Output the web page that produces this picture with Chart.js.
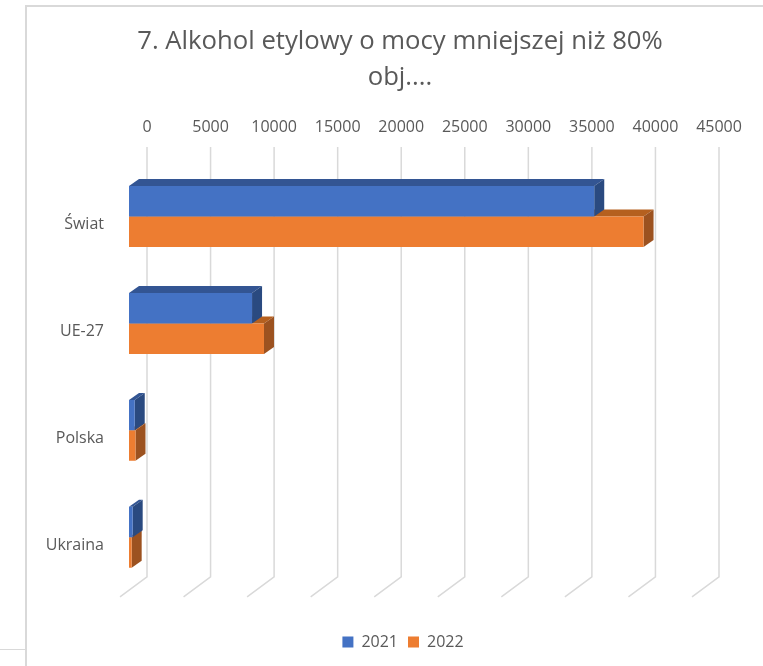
<!DOCTYPE html>
<html lang="pl">
<head>
<meta charset="utf-8">
<title>Alkohol etylowy</title>
<script src="https://cdn.jsdelivr.net/npm/chart.js@4"></script>
<style>
  html, body { margin: 0; background: #fff; overflow: hidden; }
  #wrap { position: relative; width: 763px; height: 666px; overflow: hidden; }
  #wrap canvas { position: absolute; left: 0; top: 0; }
  .frame { position: absolute; background: #d9d9d9; }
</style>
</head>
<body>
<div id="wrap">
  <canvas id="chart" width="800" height="666" style="width:800px;height:666px"></canvas>
  <div class="frame" style="left:25px;top:5px;width:738px;height:2px"></div>
  <div class="frame" style="left:25px;top:5px;width:2px;height:661px"></div>
  <div class="frame" style="left:0;top:649px;width:25px;height:1px"></div>
</div>
<script>
const categories = ['Świat', 'UE-27', 'Polska', 'Ukraina'];
const values2021 = [36600, 9680, 450, 290];
const values2022 = [40480, 10620, 510, 210];
const seriesNames = ['2021', '2022'];
const titleLines = ['7. Alkohol etylowy o mocy mniejszej niż 80%', 'obj....'];

const FONT = "'Open Sans', 'Noto Sans', sans-serif";
const TEXT = '#595959';
const GRID = '#d9d9d9';
const DEPTH_X = 10, DEPTH_Y = 7;      // bar extrusion
const WALL_X = 18, WALL_Y = 16;       // back wall offset from the bar front plane
const FLOOR_X = 9, FLOOR_Y = 6;       // floor front edge offset

const FACES = [
  { top: '#335593', side: '#2a4a80' },
  { top: '#b5601f', side: '#9c5220' },
];

function poly(ctx, pts, color) {
  ctx.fillStyle = color;
  ctx.beginPath();
  pts.forEach((p, i) => i ? ctx.lineTo(p[0], p[1]) : ctx.moveTo(p[0], p[1]));
  ctx.closePath();
  ctx.fill();
}

/* Fake 3D: back wall grid, floor lines and the bar faces, all from the scales and bar elements */
const pseudo3d = {
  id: 'pseudo3d',
  afterLayout(chart) {
    // legend sits a little right of the title centre in the original
    chart.legend.left += 3;
    chart.legend.right += 3;
  },
  beforeDatasetsDraw(chart) {
    const { ctx, chartArea, scales } = chart;
    ctx.save();
    ctx.strokeStyle = GRID;
    ctx.lineWidth = 1.5;
    scales.x.ticks.forEach(t => {
      const x = scales.x.getPixelForValue(t.value);
      ctx.beginPath();
      ctx.moveTo(x + WALL_X, chartArea.top - WALL_Y);
      ctx.lineTo(x + WALL_X, chartArea.bottom - WALL_Y + 2);
      ctx.lineTo(x - FLOOR_X, chartArea.bottom + FLOOR_Y);
      ctx.stroke();
    });
    [1, 0].forEach(d => {
      chart.getDatasetMeta(d).data.forEach(bar => {
        const { x, y, base, height } = bar.getProps(['x', 'y', 'base', 'height'], true);
        const t = y - height / 2, b = y + height / 2;
        poly(ctx, [[base, t], [base + DEPTH_X, t - DEPTH_Y], [x + DEPTH_X, t - DEPTH_Y], [x, t]], FACES[d].top);
        poly(ctx, [[x, t], [x + DEPTH_X, t - DEPTH_Y], [x + DEPTH_X, b - DEPTH_Y], [x, b]], FACES[d].side);
      });
    });
    ctx.restore();
  },
};

new Chart(document.getElementById('chart').getContext('2d'), {
  type: 'bar',
  data: {
    labels: categories,
    datasets: [
      { label: seriesNames[0], data: values2021, backgroundColor: '#4472c4', yAxisID: 'y' },
      { label: seriesNames[1], data: values2022, backgroundColor: '#ed7d31', yAxisID: 'y' },
    ],
  },
  options: {
    indexAxis: 'y',
    responsive: false,
    animation: false,
    categoryPercentage: 0.57,
    barPercentage: 1,
    layout: { padding: { top: 23, right: 0, bottom: 6, left: 0 } },
    plugins: {
      title: {
        display: true,
        text: titleLines,
        color: TEXT,
        font: { family: FONT, size: 25.7, weight: 'normal', lineHeight: 1.42 },
        padding: { top: 0, bottom: 1 },
      },
      legend: {
        position: 'bottom',
        title: { display: true, text: '', font: { size: 11 }, padding: 10 },
        labels: {
          color: TEXT,
          font: { family: FONT, size: 16 },
          boxWidth: 11,
          boxHeight: 11,
          padding: 10,
        },
      },
      tooltip: { enabled: false },
    },
    scales: {
      x: {
        position: 'top',
        min: 0,
        max: 45000,
        afterFit(scale) { scale.height = 66; },
        ticks: {
          stepSize: 5000,
          color: TEXT,
          font: { family: FONT, size: 16 },
          maxRotation: 0,
          padding: 18,
          labelOffset: WALL_X,
          callback: v => String(v),
        },
        grid: { display: false },
        border: { display: false },
      },
      y: {
        afterFit(scale) { scale.width = 129; },
        ticks: {
          color: TEXT,
          font: { family: FONT, size: 16 },
          padding: 17,
          labelOffset: 8,
        },
        grid: { display: false },
        border: { display: false },
      },
      // empty axis: reserves the room right of the plot, title and legend stay centred on the canvas
      spacer: {
        axis: 'y',
        type: 'category',
        position: 'right',
        afterFit(scale) { scale.width = 99; },
        ticks: { display: false },
        grid: { display: false },
        border: { display: false },
      },
    },
  },
  plugins: [pseudo3d],
});
</script>
</body>
</html>
